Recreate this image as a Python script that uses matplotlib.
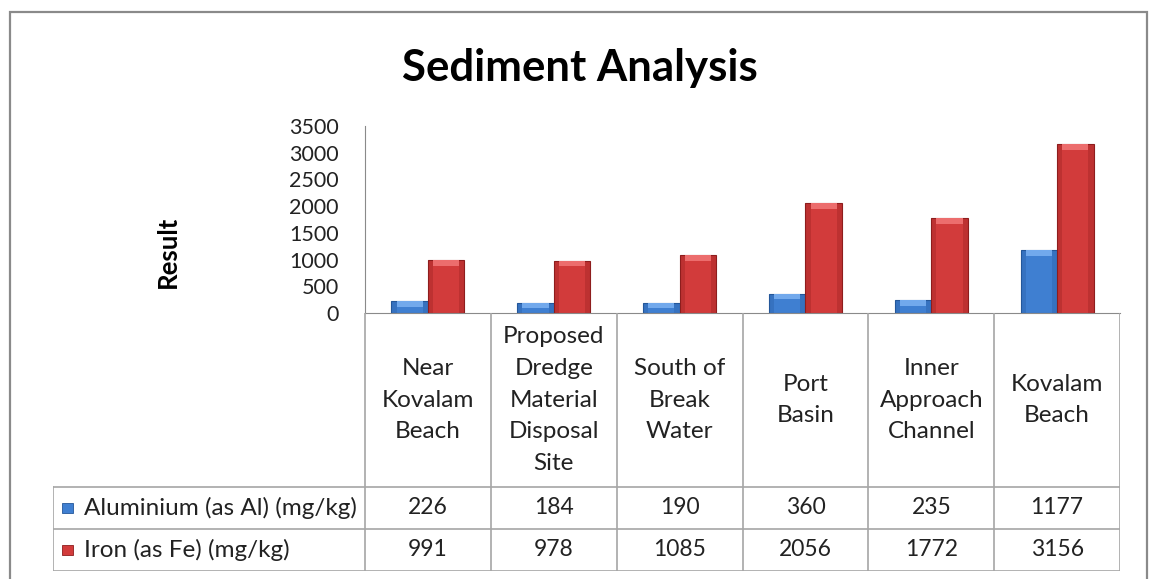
import numpy as np
import matplotlib.pyplot as plt
from matplotlib.patches import Rectangle

plt.rcParams['font.family'] = ['Lato', 'DejaVu Sans']

categories = ['Near\nKovalam\nBeach', 'Proposed\nDredge\nMaterial\nDisposal\nSite',
              'South of\nBreak\nWater', 'Port\nBasin', 'Inner\nApproach\nChannel',
              'Kovalam\nBeach']
series_names = ['Aluminium (as Al) (mg/kg)', 'Iron (as Fe) (mg/kg)']
aluminium = [226, 184, 190, 360, 235, 1177]
iron = [991, 978, 1085, 2056, 1772, 3156]
yticks = [0, 500, 1000, 1500, 2000, 2500, 3000, 3500]

blue = '#3f7fd1'
blue_hi = '#72a9ec'
blue_edge = '#24579a'
red = '#d23b3b'
red_hi = '#ec6d6d'
red_edge = '#8e1d1d'
grid_col = '#a6a6a6'

W, H = 1149, 579
fig = plt.figure(figsize=(W / 100, H / 100), dpi=100)

# outer chart frame
fig.patches.append(Rectangle((10 / W, -0.02), 1137 / W, 1 - 12 / H + 0.02,
                             transform=fig.transFigure, fill=False,
                             edgecolor='#8a8a8a', linewidth=1.6))

fig.text(580 / W, 1 - 68 / H, 'Sediment Analysis', ha='center', va='center',
         fontsize=31.5, fontweight='bold')
fig.text(168 / W, 1 - 252 / H, 'Result', ha='center', va='center',
         rotation=90, fontsize=18.5, fontweight='bold')

# bar area
ax = fig.add_axes([365 / W, 1 - 313 / H, 755 / W, 187 / H])
x = np.arange(len(categories))
bw = 0.29
bevel = 105

def bevel_bars(pos, vals, col, hi, edge):
    ax.bar(pos, vals, bw, color=col, edgecolor=edge, linewidth=0.8, zorder=2)
    vals = np.array(vals)
    h = np.minimum(vals * 0.5, bevel)
    ax.bar(pos, h, bw * 0.72, bottom=vals - h, color=hi, linewidth=0, zorder=3)
    ax.bar(pos - bw * 0.43, vals, bw * 0.14, color=edge, alpha=0.3, linewidth=0, zorder=3)
    ax.bar(pos + bw * 0.43, vals, bw * 0.14, color=edge, alpha=0.3, linewidth=0, zorder=3)

bevel_bars(x - bw / 2, aluminium, blue, blue_hi, blue_edge)
bevel_bars(x + bw / 2, iron, red, red_hi, red_edge)

ax.set_xlim(-0.5, len(categories) - 0.5)
ax.set_ylim(0, 3500)
ax.set_yticks(yticks)
ax.set_yticklabels([str(t) for t in yticks], fontsize=15.5, color='#222222')
ax.tick_params(axis='y', length=0, pad=19)
ax.set_xticks([])
for s in ['top', 'right']:
    ax.spines[s].set_visible(False)
ax.spines['left'].set_color('#8a8a8a')
ax.spines['bottom'].set_color('#8a8a8a')

# data table
tx0 = -0.5 - 312 / 125.83
tab = fig.add_axes([53 / W, 1 - 571 / H, 1067 / W, 258 / H])
tab.set_xlim(tx0, len(categories) - 0.5)
tab.set_ylim(258, 0)
tab.axis('off')
cat_h, row_h = 174, 42

for i in range(len(categories) + 1):
    tab.plot([i - 0.5, i - 0.5], [0, 258], color=grid_col, lw=1.2)
tab.plot([tx0, tx0], [cat_h, 258], color=grid_col, lw=1.2)
for yy in [cat_h, cat_h + row_h, cat_h + 2 * row_h]:
    tab.plot([tx0, len(categories) - 0.5], [yy, yy], color=grid_col, lw=1.2)

for i, c in enumerate(categories):
    tab.text(i, cat_h / 2, c, ha='center', va='center', fontsize=17.5,
             linespacing=1.62, color='#222222')

rows = [aluminium, iron]
cols = [(blue, blue_edge), (red, red_edge)]
for r, (vals, name, (fc, ec)) in enumerate(zip(rows, series_names, cols)):
    yc = cat_h + row_h * (r + 0.5)
    for i, v in enumerate(vals):
        tab.text(i, yc, str(v), ha='center', va='center', fontsize=16.5,
                 color='#222222')
    tab.add_patch(Rectangle((tx0 + 9 / 125.83, yc - 5), 11 / 125.83, 10,
                            facecolor=fc, edgecolor=ec, linewidth=0.6))
    tab.text(tx0 + 31 / 125.83, yc, name, ha='left', va='center',
             fontsize=17.5, color='#222222')

fig.savefig('out.png', dpi=100)
